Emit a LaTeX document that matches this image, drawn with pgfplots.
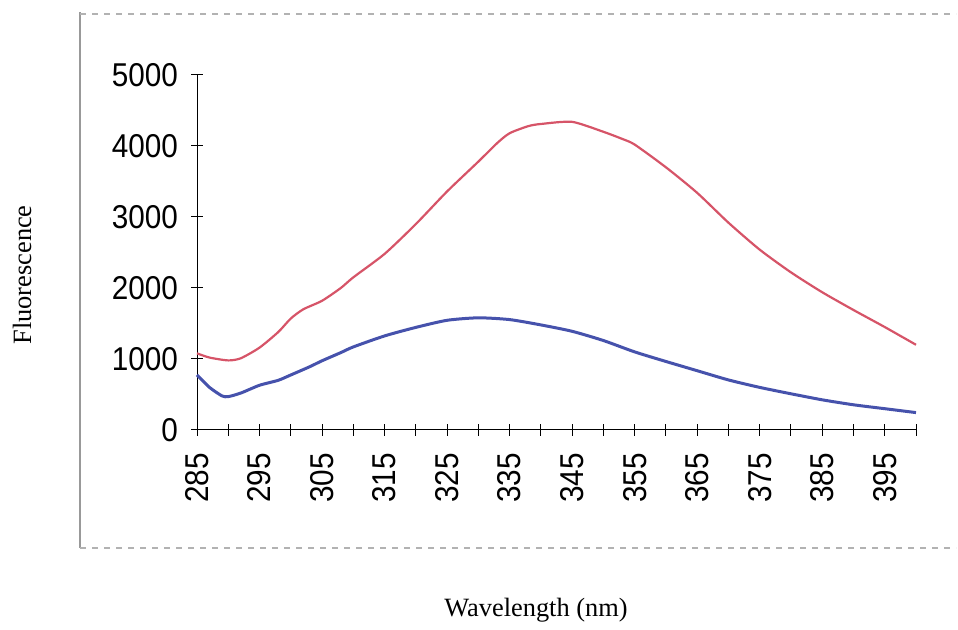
\documentclass[border=0pt]{standalone}
\usepackage{fontspec}
\setmainfont{Liberation Serif}
\newfontfamily\arialf[FakeStretch=0.9]{Liberation Sans}
\usepackage{pgfplots}
\pgfplotsset{compat=1.18}
\definecolor{redc}{RGB}{214,84,104}
\definecolor{bluec}{RGB}{70,82,172}
\begin{document}
\begin{tikzpicture}[x=1pt,y=1pt]
\path[use as bounding box] (0,0) rectangle (479,315);
\draw[gray!80, line width=0.6pt] (40,41) -- (40,309);
\draw[gray!60, dashed, line width=0.6pt] (40,308) -- (478,308);
\draw[gray!60, dashed, line width=0.6pt] (40,41) -- (478,41);
\node[rotate=90, font=\fontsize{13.2}{15}\selectfont] at (11,177.5) {Fluorescence};
\node[font=\fontsize{13.2}{15}\selectfont] at (268,10) {Wavelength (nm)};
\begin{axis}[
  at={(98.5pt,100pt)}, anchor=south west,
  scale only axis, width=359.5pt, height=177.5pt,
  xmin=285, xmax=400, ymin=0, ymax=5000,
  axis x line=bottom, axis y line=left,
  axis line style={-, black, line width=0.5pt},
  xtick={285,295,...,395},
  minor xtick={290,300,...,400},
  ytick={0,1000,...,5000},
  tick align=center,
  major tick length=6pt, minor tick length=6pt,
  tick style={black, line width=0.5pt},
  /pgf/number format/assume math mode=true,
  /pgf/number format/1000 sep={},
  scaled y ticks=false, scaled x ticks=false,
  ticklabel style={font=\arialf\fontsize{16.5}{16.5}\selectfont},
  xticklabel style={rotate=90, anchor=east},
  xticklabel shift=5pt,
  yticklabel shift=3pt,
  clip=false,
]
\addplot[redc, line width=1.1pt, smooth, tension=0.4] coordinates {
(285,1080) (287,1020) (290,980) (292,1010) (295,1160) (298,1380) (300,1570)
(302,1700) (305,1820) (308,2000) (310,2150) (315,2480) (320,2900) (325,3360)
(330,3780) (333,4040) (335,4180) (338,4280) (340,4310) (345,4340) (350,4200)
(353,4100) (355,4020) (360,3700) (365,3340) (370,2920) (375,2540) (380,2220)
(385,1940) (390,1690) (395,1450) (400,1200)
};
\addplot[bluec, line width=1.5pt, smooth, tension=0.4] coordinates {
(285,775) (287,600) (289,480) (290,470) (292,520) (295,630) (298,700)
(300,775) (303,890) (305,975) (308,1090) (310,1170) (315,1325) (320,1445)
(325,1545) (330,1580) (335,1555) (340,1480) (345,1390) (350,1260) (355,1100)
(360,965) (365,835) (370,705) (375,600) (380,510) (385,425) (390,355)
(395,300) (400,245)
};
\end{axis}
\end{tikzpicture}
\end{document}
